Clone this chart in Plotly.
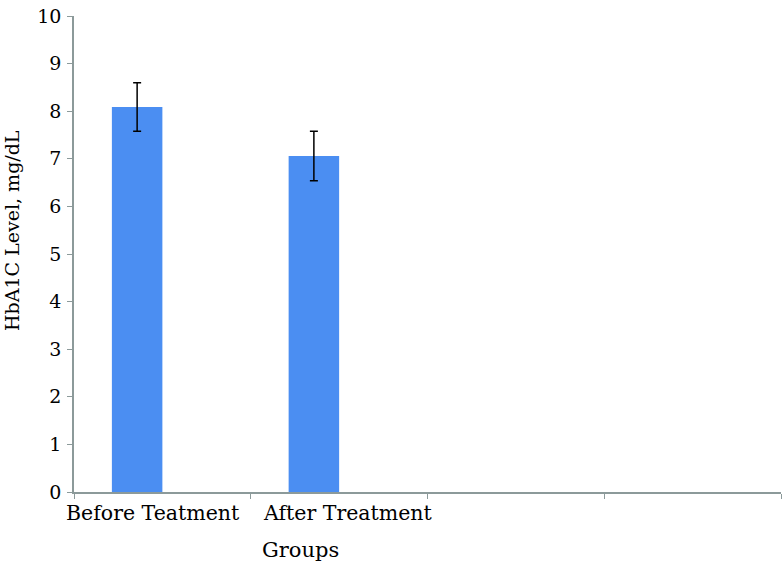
import plotly.graph_objects as go

categories = ["Before Teatment", "After Treatment", " ", "  "]
values = [8.09, 7.06, None, None]
errors = [0.51, 0.52, None, None]
y_ticks = [0, 1, 2, 3, 4, 5, 6, 7, 8, 9, 10]
label_shift = [-9, 9, 0, 0]

BAR_W = 1 / 3.5
FONT = "DejaVu Serif"

fig = go.Figure()
fig.add_trace(go.Bar(
    x=categories, y=values,
    width=BAR_W, offset=-BAR_W,
    marker=dict(color="#4b8ef2", line=dict(width=0)),
    error_y=dict(type="data", array=errors, visible=True,
                 color="black", thickness=1.5, width=4),
))

axis_col = "#8c9a9a"
annotations = [
    dict(text="HbA1C Level, mg/dL", xref="paper", yref="paper",
         x=(12 - 74) / 707, y=(492 - 231) / 476, textangle=-90, showarrow=False,
         xanchor="center", yanchor="middle",
         font=dict(family=FONT, size=19, color="black")),
    dict(text="Groups", xref="paper", yref="paper",
         x=(300 - 74) / 707, y=-(550 - 492) / 476, showarrow=False,
         xanchor="center", yanchor="middle",
         font=dict(family=FONT, size=21, color="black")),
]
for cat, sh in zip(categories, label_shift):
    if cat.strip():
        annotations.append(dict(
            text=cat, x=cat, xref="x", y=0, yref="paper",
            xanchor="center", yanchor="middle", yshift=-21, xshift=sh,
            showarrow=False, font=dict(family=FONT, size=20.5, color="black")))

fig.update_layout(
    width=784, height=577,
    margin=dict(l=74, r=3, t=16, b=85),
    paper_bgcolor="white", plot_bgcolor="white",
    showlegend=False,
    font=dict(family=FONT, size=19, color="black"),
    xaxis=dict(
        type="category", categoryorder="array", categoryarray=categories,
        range=[-0.5, len(categories) - 0.5], autorange=False,
        tickson="boundaries", ticks="outside", ticklen=5, tickcolor=axis_col,
        showline=True, linecolor=axis_col, linewidth=1.5,
        showgrid=False, zeroline=False, automargin=False, tickangle=0,
        showticklabels=False,
    ),
    yaxis=dict(
        range=[0, 10], tickvals=y_ticks,
        ticks="outside", ticklen=5, tickcolor=axis_col,
        showline=True, linecolor=axis_col, linewidth=1.5,
        showgrid=False, zeroline=False, automargin=False,
        tickfont=dict(family=FONT, size=19, color="black"),
        ticklabelstandoff=2,
    ),
    annotations=annotations,
)

fig.write_html("out.html", config={"displayModeBar": False},
               post_script="document.body.style.margin='0';")
